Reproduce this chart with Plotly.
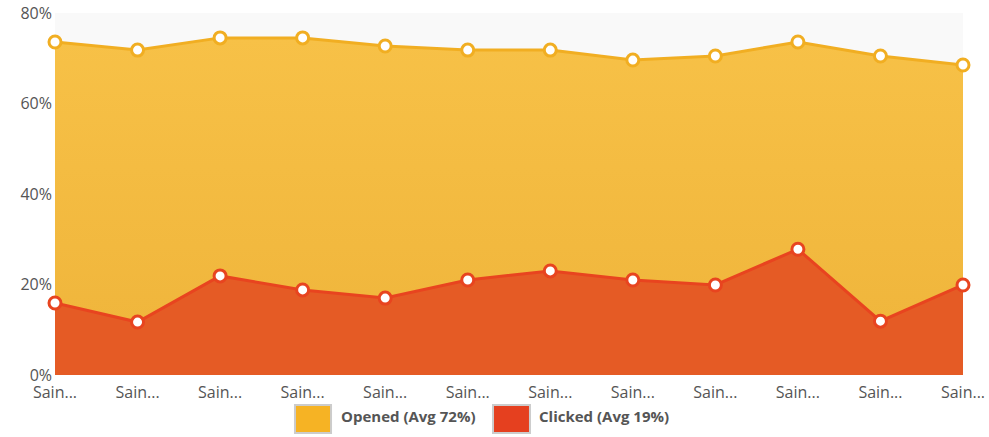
import plotly.graph_objects as go

tick_labels = ["Sain..."] * 12
x_idx = list(range(12))
opened = [73.6, 71.8, 74.5, 74.5, 72.7, 71.8, 71.8, 69.6, 70.5, 73.6, 70.5, 68.5]
clicked = [15.9, 11.7, 21.9, 18.8, 17.0, 21.0, 23.0, 21.0, 19.9, 27.8, 11.9, 19.9]
y_ticks = [0, 20, 40, 60, 80]
y_tick_labels = ["0%", "20%", "40%", "60%", "80%"]

avg_open = round(sum(opened) / len(opened))
avg_click = round(sum(clicked) / len(clicked))

fig = go.Figure()
fig.add_trace(go.Scatter(
    x=x_idx, y=opened, mode="lines+markers", fill="tozeroy",
    fillgradient=dict(type="vertical", colorscale=[[0, "#efb43a"], [1, "#f7c147"]]),
    line=dict(color="#f1ae22", width=3),
    marker=dict(size=12, color="white", line=dict(color="#f1ae22", width=3)),
    cliponaxis=False, showlegend=False, name="Opened"))
fig.add_trace(go.Scatter(
    x=x_idx, y=clicked, mode="lines+markers", fill="tozeroy",
    fillcolor="#e55b25",
    line=dict(color="#e8441f", width=3),
    marker=dict(size=12, color="white", line=dict(color="#e8441f", width=3)),
    cliponaxis=False, showlegend=False, name="Clicked"))

shapes = []
annotations = []
legend_items = [
    (0.2643, 0.3040, 0.3128, "#f6b324", f"Opened (Avg {avg_open}%)"),
    (0.4824, 0.5231, 0.5308, "#e5401f", f"Clicked (Avg {avg_click}%)"),
]
for x0, x1, xt, col, txt in legend_items:
    shapes.append(dict(type="rect", xref="paper", yref="paper", x0=x0, x1=x1,
                       y0=-0.160, y1=-0.083, fillcolor=col,
                       line=dict(color="#cccccc", width=2), layer="above"))
    annotations.append(dict(xref="paper", yref="paper", x=xt, y=-0.112,
                            xanchor="left", yanchor="middle", showarrow=False,
                            text=f"<b>{txt}</b>",
                            font=dict(size=15, color="#555555", family="Open Sans, sans-serif")))

fig.update_layout(
    width=989, height=437,
    margin=dict(l=55, r=26, t=13, b=62),
    paper_bgcolor="white", plot_bgcolor="#f9f9f9",
    font=dict(family="Open Sans, sans-serif", size=16, color="#555555"),
    shapes=shapes, annotations=annotations, showlegend=False,
    xaxis=dict(range=[0, 11], tickmode="array", tickvals=x_idx, ticktext=tick_labels,
               showgrid=False, zeroline=False, showline=False, ticks="",
               automargin=False, ticklabelstandoff=6,
               tickfont=dict(size=16, color="#555555")),
    yaxis=dict(range=[0, 80], tickmode="array", tickvals=y_ticks, ticktext=y_tick_labels,
               showgrid=False, zeroline=False, showline=False, ticks="",
               automargin=False, ticklabelstandoff=2,
               tickfont=dict(size=16, color="#555555")),
)
fig.write_html("out.html", config={"displayModeBar": False},
               post_script="document.body.style.margin='0';")
